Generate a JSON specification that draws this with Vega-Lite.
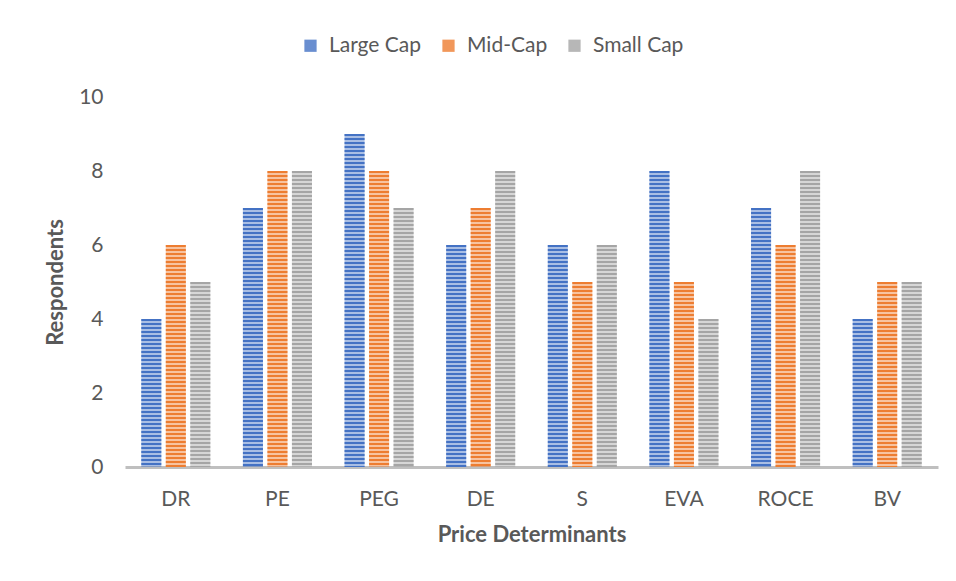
{
  "$schema": "https://vega.github.io/schema/vega-lite/v6.json",
  "width": 813,
  "height": 370,
  "autosize": {"type": "none"},
  "padding": {"left": 125, "top": 97, "right": 18, "bottom": 114},
  "background": "white",
  "config": {
    "font": "Lato",
    "view": {"stroke": null},
    "axis": {"labelColor": "#595959", "titleColor": "#595959", "labelFont": "Lato", "titleFont": "Lato"},
    "legend": {"labelFont": "Lato"}
  },
  "data": {
    "values": [
      {"determinant": "DR", "series": "Large Cap", "value": 4},
      {"determinant": "DR", "series": "Mid-Cap", "value": 6},
      {"determinant": "DR", "series": "Small Cap", "value": 5},
      {"determinant": "PE", "series": "Large Cap", "value": 7},
      {"determinant": "PE", "series": "Mid-Cap", "value": 8},
      {"determinant": "PE", "series": "Small Cap", "value": 8},
      {"determinant": "PEG", "series": "Large Cap", "value": 9},
      {"determinant": "PEG", "series": "Mid-Cap", "value": 8},
      {"determinant": "PEG", "series": "Small Cap", "value": 7},
      {"determinant": "DE", "series": "Large Cap", "value": 6},
      {"determinant": "DE", "series": "Mid-Cap", "value": 7},
      {"determinant": "DE", "series": "Small Cap", "value": 8},
      {"determinant": "S", "series": "Large Cap", "value": 6},
      {"determinant": "S", "series": "Mid-Cap", "value": 5},
      {"determinant": "S", "series": "Small Cap", "value": 6},
      {"determinant": "EVA", "series": "Large Cap", "value": 8},
      {"determinant": "EVA", "series": "Mid-Cap", "value": 5},
      {"determinant": "EVA", "series": "Small Cap", "value": 4},
      {"determinant": "ROCE", "series": "Large Cap", "value": 7},
      {"determinant": "ROCE", "series": "Mid-Cap", "value": 6},
      {"determinant": "ROCE", "series": "Small Cap", "value": 8},
      {"determinant": "BV", "series": "Large Cap", "value": 4},
      {"determinant": "BV", "series": "Mid-Cap", "value": 5},
      {"determinant": "BV", "series": "Small Cap", "value": 5}
    ]
  },
  "encoding": {
    "x": {
      "field": "determinant",
      "type": "nominal",
      "sort": ["DR", "PE", "PEG", "DE", "S", "EVA", "ROCE", "BV"],
      "scale": {"paddingInner": 0.32, "paddingOuter": 0.16},
      "axis": {
        "title": "Price Determinants",
        "titleFontSize": 22,
        "titleFontWeight": "bold",
        "titlePadding": 15,
        "labelAngle": 0,
        "labelFontSize": 21,
        "labelFontWeight": "normal",
        "labelPadding": 21,
        "ticks": false,
        "domainColor": "#BFBFBF",
        "domainWidth": 3,
        "grid": false
      }
    },
    "xOffset": {
      "field": "series",
      "type": "nominal",
      "sort": ["Large Cap", "Mid-Cap", "Small Cap"],
      "scale": {"paddingInner": 0.18, "paddingOuter": 0}
    },
    "y": {
      "field": "value",
      "type": "quantitative",
      "scale": {"domain": [0, 10], "nice": false},
      "axis": {
        "title": "Respondents",
        "titleFontSize": 22,
        "titleFontWeight": "bold",
        "titlePadding": 11,
        "values": [0, 2, 4, 6, 8, 10],
        "labelFontSize": 21,
        "labelPadding": 22,
        "ticks": false,
        "domain": false,
        "grid": false
      }
    },
    "color": {
      "field": "series",
      "type": "nominal",
      "sort": ["Large Cap", "Mid-Cap", "Small Cap"],
      "scale": {
        "domain": ["Large Cap", "Mid-Cap", "Small Cap"],
        "range": ["#4472C4", "#ED7D31", "#A5A5A5"]
      },
      "legend": {
        "orient": "none",
        "legendX": 175,
        "legendY": -62,
        "direction": "horizontal",
        "title": null,
        "symbolType": "square",
        "symbolSize": 150,
        "symbolOpacity": 0.8,
        "symbolStrokeWidth": 0,
        "labelFontSize": 21,
        "labelColor": "#595959",
        "labelOffset": 8,
        "columnPadding": 16
      }
    }
  },
  "layer": [
    {
      "mark": {"type": "bar", "fillOpacity": 0.46, "strokeWidth": 0}
    },
    {
      "mark": {"type": "rule", "strokeWidth": 20, "strokeDash": [2, 2], "strokeCap": "butt"},
      "encoding": {
        "y2": {"datum": 0}
      }
    }
  ]
}
